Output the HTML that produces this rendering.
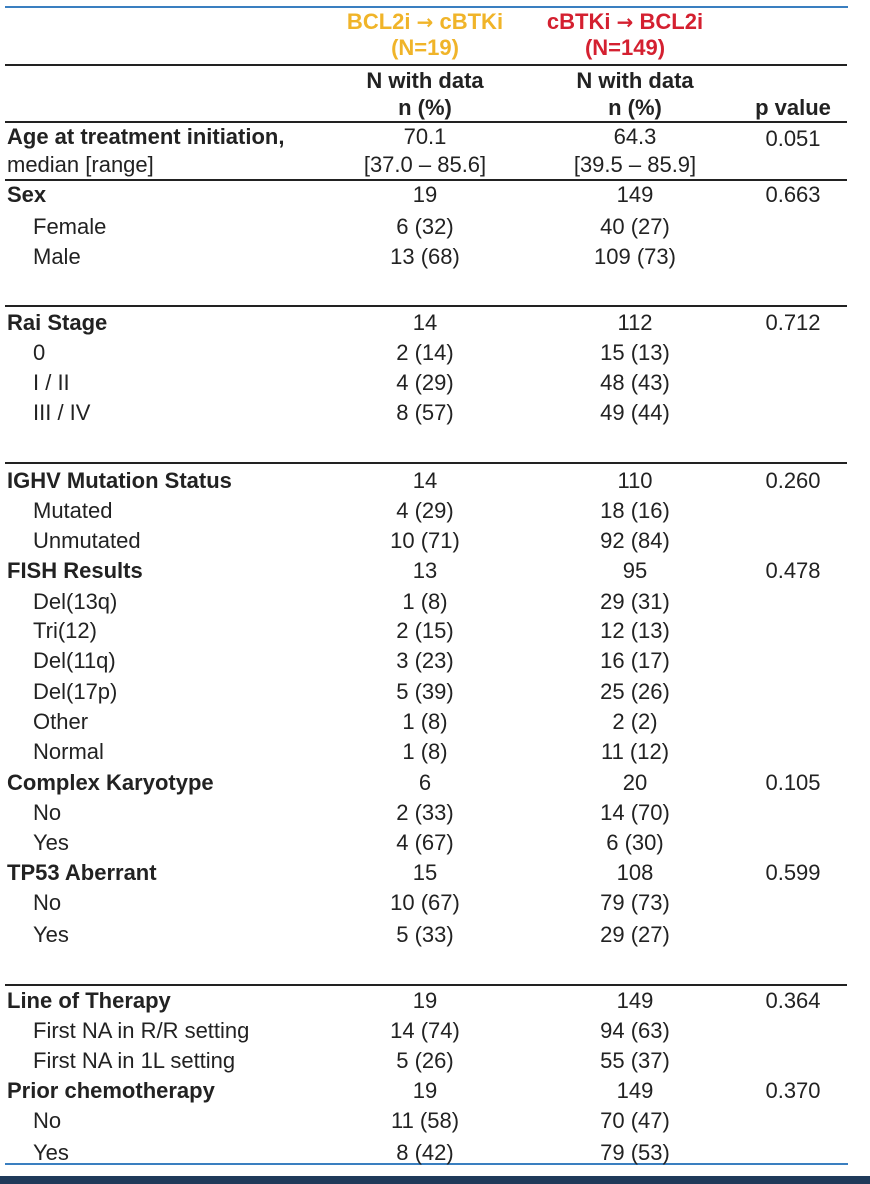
<!DOCTYPE html>
<html><head><meta charset="utf-8"><style>
body{margin:0;width:870px;height:1184px;background:#fff;position:relative;overflow:hidden;font-family:"Liberation Sans Narrow","Liberation Sans",sans-serif;font-size:22px;color:#222}
.t{position:absolute;white-space:nowrap;line-height:1;transform:translateY(-50%)}
.c{transform:translate(-50%,-50%);text-align:center}
.b{font-weight:bold}
.l{position:absolute;left:5px;width:842px;height:2px;background:#222}
.ar{font-family:"DejaVu Sans",sans-serif;font-weight:bold;font-size:20px}
</style></head><body>
<div style="position:absolute;left:5px;top:6px;width:843px;height:2px;background:#3a7fc0"></div>
<div style="position:absolute;left:5px;top:1163px;width:843px;height:2px;background:#3a7fc0"></div>
<div style="position:absolute;left:0;top:1176px;width:870px;height:8px;background:#1f3a5a"></div>
<div class="t c b" style="left:425px;top:22px;color:#f0b429">BCL2i <span class="ar">→</span> cBTKi</div>
<div class="t c b" style="left:425px;top:48px;color:#f0b429">(N=19)</div>
<div class="t c b" style="left:625px;top:22px;color:#d42030">cBTKi <span class="ar">→</span> BCL2i</div>
<div class="t c b" style="left:625px;top:48px;color:#d42030">(N=149)</div>
<div class="l" style="top:64px"></div>
<div class="t c b" style="left:425px;top:81px">N with data</div>
<div class="t c b" style="left:425px;top:108px">n (%)</div>
<div class="t c b" style="left:635px;top:81px">N with data</div>
<div class="t c b" style="left:635px;top:108px">n (%)</div>
<div class="t c b" style="left:793px;top:108px">p value</div>
<div class="l" style="top:121px"></div>
<div class="t b" style="left:7px;top:137px">Age at treatment initiation,</div>
<div class="t" style="left:7px;top:165px">median [range]</div>
<div class="t c" style="left:425px;top:137px">70.1</div>
<div class="t c" style="left:425px;top:165px">[37.0 – 85.6]</div>
<div class="t c" style="left:635px;top:137px">64.3</div>
<div class="t c" style="left:635px;top:165px">[39.5 – 85.9]</div>
<div class="t c" style="left:793px;top:139px">0.051</div>
<div class="l" style="top:179px"></div>
<div class="l" style="top:305px"></div>
<div class="l" style="top:462px"></div>
<div class="l" style="top:984px"></div>
<div id="rows"></div>
<script>
var R=[
[195,"Sex",1,"19","149","0.663"],[227,"Female",0,"6 (32)","40 (27)"],[257,"Male",0,"13 (68)","109 (73)"],
[323,"Rai Stage",1,"14","112","0.712"],[353,"0",0,"2 (14)","15 (13)"],[383,"I / II",0,"4 (29)","48 (43)"],[413,"III / IV",0,"8 (57)","49 (44)"],
[481,"IGHV Mutation Status",1,"14","110","0.260"],[511,"Mutated",0,"4 (29)","18 (16)"],[541,"Unmutated",0,"10 (71)","92 (84)"],
[571,"FISH Results",1,"13","95","0.478"],[602,"Del(13q)",0,"1 (8)","29 (31)"],[631,"Tri(12)",0,"2 (15)","12 (13)"],[661,"Del(11q)",0,"3 (23)","16 (17)"],[692,"Del(17p)",0,"5 (39)","25 (26)"],[722,"Other",0,"1 (8)","2 (2)"],[752,"Normal",0,"1 (8)","11 (12)"],
[783,"Complex Karyotype",1,"6","20","0.105"],[813,"No",0,"2 (33)","14 (70)"],[843,"Yes",0,"4 (67)","6 (30)"],
[873,"TP53 Aberrant",1,"15","108","0.599"],[903,"No",0,"10 (67)","79 (73)"],[935,"Yes",0,"5 (33)","29 (27)"],
[1001,"Line of Therapy",1,"19","149","0.364"],[1031,"First NA in R/R setting",0,"14 (74)","94 (63)"],[1061,"First NA in 1L setting",0,"5 (26)","55 (37)"],
[1091,"Prior chemotherapy",1,"19","149","0.370"],[1121,"No",0,"11 (58)","70 (47)"],[1153,"Yes",0,"8 (42)","79 (53)"]];
var h="";R.forEach(function(r){
h+='<div class="t'+(r[2]?' b':'')+'" style="left:'+(r[2]?7:33)+'px;top:'+r[0]+'px">'+r[1]+'</div>';
h+='<div class="t c" style="left:425px;top:'+r[0]+'px">'+r[3]+'</div>';
h+='<div class="t c" style="left:635px;top:'+r[0]+'px">'+r[4]+'</div>';
if(r[5])h+='<div class="t c" style="left:793px;top:'+r[0]+'px">'+r[5]+'</div>';});
document.getElementById("rows").innerHTML=h;
</script>
</body></html>
